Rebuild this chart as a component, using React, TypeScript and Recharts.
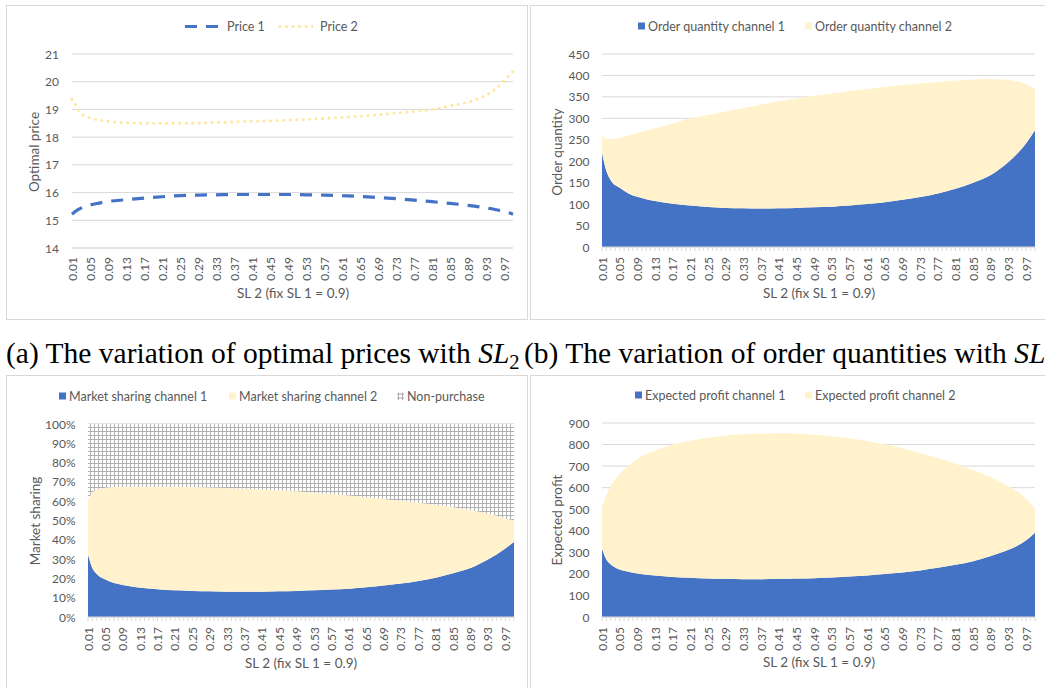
import React from "react";
import { LineChart, Line, AreaChart, Area, XAxis, YAxis, CartesianGrid } from "recharts";

// every category on the SL 2 axis (minor tick marks)
const SL_TICKS = [
  0.01, 0.02, 0.03, 0.04, 0.05, 0.06, 0.07, 0.08, 0.09, 0.1, 0.11, 0.12, 0.13, 0.14, 0.15, 0.16, 0.17, 0.18, 0.19, 0.2,
  0.21, 0.22, 0.23, 0.24, 0.25, 0.26, 0.27, 0.28, 0.29, 0.3, 0.31, 0.32, 0.33, 0.34, 0.35, 0.36, 0.37, 0.38, 0.39, 0.4,
  0.41, 0.42, 0.43, 0.44, 0.45, 0.46, 0.47, 0.48, 0.49, 0.5, 0.51, 0.52, 0.53, 0.54, 0.55, 0.56, 0.57, 0.58, 0.59, 0.6,
  0.61, 0.62, 0.63, 0.64, 0.65, 0.66, 0.67, 0.68, 0.69, 0.7, 0.71, 0.72, 0.73, 0.74, 0.75, 0.76, 0.77, 0.78, 0.79, 0.8,
  0.81, 0.82, 0.83, 0.84, 0.85, 0.86, 0.87, 0.88, 0.89, 0.9, 0.91, 0.92, 0.93, 0.94, 0.95, 0.96, 0.97, 0.98, 0.99,
];
// labelled categories
const SL_LABELS = [
  0.01, 0.05, 0.09, 0.13, 0.17, 0.21, 0.25, 0.29, 0.33, 0.37, 0.41, 0.45, 0.49, 0.53, 0.57, 0.61, 0.65, 0.69, 0.73,
  0.77, 0.81, 0.85, 0.89, 0.93, 0.97,
];
// points
const SL_POINTS = [
  0.01, 0.02, 0.03, 0.05, 0.07, 0.09, 0.13, 0.17, 0.21, 0.25, 0.29, 0.33, 0.37, 0.41, 0.45, 0.49, 0.53, 0.57, 0.61,
  0.65, 0.69, 0.73, 0.77, 0.81, 0.85, 0.89, 0.93, 0.95, 0.97, 0.99,
];

const PRICE_1 = [
  15.22, 15.35, 15.44, 15.55, 15.62, 15.68, 15.74, 15.8, 15.85, 15.89, 15.91, 15.92, 15.93, 15.93, 15.93, 15.93, 15.92,
  15.91, 15.89, 15.86, 15.82, 15.78, 15.73, 15.67, 15.61, 15.54, 15.45, 15.39, 15.32, 15.22,
];
const PRICE_2 = [
  19.37, 19.12, 18.86, 18.7, 18.62, 18.57, 18.52, 18.5, 18.5, 18.5, 18.51, 18.53, 18.55, 18.57, 18.59, 18.62, 18.64,
  18.68, 18.71, 18.76, 18.81, 18.87, 18.93, 19.0, 19.13, 19.27, 19.51, 19.72, 20.03, 20.38,
];

const ORDER_1 = [
  220, 177, 155, 138, 125, 117, 107, 101, 96.5, 93.4, 91, 90.3, 89.5, 90.3, 91, 92.6, 94, 96.5, 100, 104.5, 110, 116.5,
  125, 136, 150, 168, 198, 218, 242, 272,
];
const ORDER_2 = [
  42, 75, 96, 117, 135, 149, 170, 187, 203.5, 214.6, 225, 233.7, 242.5, 249.7, 255.5, 259.9, 264, 267, 268.5, 268.5,
  267.5, 265, 260, 252, 240.5, 223.5, 191.5, 168, 138, 95,
];

const SHARE_1 = [
  32.4, 25.4, 22.3, 19.4, 17.6, 16.6, 15.2, 14.4, 13.8, 13.5, 13.3, 13.1, 13.1, 13.1, 13.3, 13.5, 13.8, 14.2, 14.7,
  15.4, 16.3, 17.3, 18.7, 20.4, 22.7, 25.4, 29.8, 32.4, 35.5, 38.9,
];
const SHARE_2 = [
  28.5, 39.0, 43.8, 47.6, 49.7, 50.9, 52.3, 53.1, 53.7, 53.8, 53.8, 53.7, 53.3, 53.0, 52.3, 51.6, 50.6, 49.5, 48.3,
  46.7, 44.9, 42.9, 40.5, 37.7, 34.2, 30.1, 23.8, 20.0, 15.5, 11.3,
];
const NON_PURCHASE = [
  39.1, 35.6, 33.9, 33.0, 32.7, 32.5, 32.5, 32.5, 32.5, 32.7, 32.9, 33.2, 33.6, 33.9, 34.4, 34.9, 35.6, 36.3, 37.0,
  37.9, 38.8, 39.8, 40.8, 41.9, 43.1, 44.5, 46.4, 47.6, 49.0, 49.8,
];

const PROFIT_1 = [
  317, 267, 244, 220.5, 210, 202, 192.6, 186, 182, 178.6, 177, 175.5, 175.5, 177, 178.6, 180, 183, 188, 192.6, 199,
  206.5, 216, 228, 242, 259, 283, 312, 331, 356, 391,
];
const PROFIT_2 = [
  191, 300, 365, 442.5, 492, 531, 579.4, 614, 636, 653.4, 665, 672.5, 675.5, 676, 672.4, 666, 656, 641, 624.4, 602,
  576.5, 545, 510, 469, 423, 365, 294, 250, 194, 112,
];

const PRICE_TICKS = [14, 15, 16, 17, 18, 19, 20, 21];
const ORDER_TICKS = [0, 50, 100, 150, 200, 250, 300, 350, 400, 450];
const SHARE_TICKS = [0, 10, 20, 30, 40, 50, 60, 70, 80, 90, 100];
const PROFIT_TICKS = [0, 100, 200, 300, 400, 500, 600, 700, 800, 900];

const FONT = "Lato, 'Noto Sans', sans-serif";
const TEXT = "#595959";
const GRID = "#d9d9d9";
const BLUE = "#4472C4";
const CREAM = "#FFF2CC";
const GOLD = "#FFE699";

const LABEL_SET = new Set(SL_LABELS.map((v) => Math.round(v * 100)));

function XTick({ x, y, payload }: any) {
  if (!LABEL_SET.has(Math.round(payload.value * 100))) return <g />;
  return (
    <text
      x={x}
      y={y}
      transform={`rotate(-90 ${x} ${y})`}
      textAnchor="end"
      dominantBaseline="central"
      fill={TEXT}
      fontSize={12}
      fontFamily={FONT}
    >
      {payload.value.toFixed(2)}
    </text>
  );
}

function YTick({ x, y, payload, suffix }: any) {
  return (
    <text x={x} y={y} textAnchor="end" dominantBaseline="central" fill={TEXT} fontSize={12} fontFamily={FONT}>
      {payload.value}
      {suffix || ""}
    </text>
  );
}

function Square({ fill }: { fill: string }) {
  return <span style={{ display: "inline-block", width: 7, height: 7, background: fill }} />;
}

function GridSwatch() {
  return (
    <svg width={7} height={8}>
      <line x1={0} y1={1.5} x2={7} y2={1.5} stroke="#aaa" />
      <line x1={0} y1={5.5} x2={7} y2={5.5} stroke="#aaa" />
      <line x1={1.5} y1={0} x2={1.5} y2={8} stroke="#aaa" />
      <line x1={5.5} y1={0} x2={5.5} y2={8} stroke="#aaa" />
    </svg>
  );
}

function LegendItem({ left, y, gap, swatch, label }: any) {
  return (
    <div
      style={{
        position: "absolute",
        left,
        top: y,
        transform: "translateY(-50%)",
        display: "flex",
        alignItems: "center",
        gap,
        whiteSpace: "nowrap",
        fontFamily: FONT,
        fontSize: 12.5,
        color: TEXT,
      }}
    >
      {swatch}
      <span>{label}</span>
    </div>
  );
}

function YTitle({ x, y, text }: any) {
  return (
    <div
      style={{
        position: "absolute",
        left: x,
        top: y,
        transform: "translate(-50%, -50%) rotate(-90deg)",
        whiteSpace: "nowrap",
        fontFamily: FONT,
        fontSize: 13.5,
        color: TEXT,
      }}
    >
      {text}
    </div>
  );
}

function XTitle({ x, y }: any) {
  return (
    <div
      style={{
        position: "absolute",
        left: x,
        top: y,
        transform: "translate(-50%, -50%)",
        whiteSpace: "nowrap",
        fontFamily: FONT,
        fontSize: 13.5,
        color: TEXT,
      }}
    >
      SL 2 (fix SL 1 = 0.9)
    </div>
  );
}

function Panel({ left, top, width, height, children }: any) {
  return (
    <div style={{ position: "absolute", left, top, width, height }}>
      <div
        style={{
          position: "absolute",
          inset: 0,
          border: `1px solid ${GRID}`,
          boxSizing: "border-box",
        }}
      />
      {children}
    </div>
  );
}

function PriceChart() {
  const rows = SL_POINTS.map((sl, i) => ({ sl, p1: PRICE_1[i], p2: PRICE_2[i] }));
  return (
    <Panel left={6} top={5} width={522} height={315}>
      <div style={{ position: "absolute", left: 0, top: 0 }}>
        <LineChart width={518} height={315} data={rows} margin={{ top: 49, right: 11, left: 26, bottom: 0 }}>
          <CartesianGrid vertical={false} stroke={GRID} />
          <XAxis
            dataKey="sl"
            type="number"
            domain={[0.01, 0.99]}
            ticks={SL_LABELS}
            interval={0}
            height={72}
            tickLine={false}
            tickSize={0}
            tickMargin={9}
            axisLine={{ stroke: GRID }}
            tick={<XTick />}
          />
          <YAxis
            type="number"
            domain={[14, 21]}
            ticks={PRICE_TICKS}
            interval={0}
            width={40}
            axisLine={false}
            tickLine={false}
            tickSize={0}
            tickMargin={13}
            tick={<YTick />}
          />
          <Line
            dataKey="p1"
            type="monotone"
            stroke={BLUE}
            strokeWidth={3.2}
            strokeDasharray="12 9"
            dot={false}
            isAnimationActive={false}
          />
          <Line
            dataKey="p2"
            type="monotone"
            stroke={GOLD}
            strokeWidth={3}
            strokeDasharray="0 6.5"
            strokeLinecap="round"
            dot={false}
            isAnimationActive={false}
          />
        </LineChart>
      </div>
      <LegendItem
        left={179}
        y={21}
        gap={7}
        label="Price 1"
        swatch={
          <svg width={35} height={4}>
            <line x1={0} y1={2} x2={35} y2={2} stroke={BLUE} strokeWidth={3.2} strokeDasharray="12 9" />
          </svg>
        }
      />
      <LegendItem
        left={272}
        y={21}
        gap={7}
        label="Price 2"
        swatch={
          <svg width={35} height={4}>
            <line
              x1={2}
              y1={2}
              x2={35}
              y2={2}
              stroke={GOLD}
              strokeWidth={3}
              strokeDasharray="0 6.5"
              strokeLinecap="round"
            />
          </svg>
        }
      />
      <YTitle x={28} y={147} text="Optimal price" />
      <XTitle x={287} y={288} />
    </Panel>
  );
}

function StackChart({ rows, keys, fills, domain, ticks, suffix, plotLeft, plotRight, plotTop, defs }: any) {
  return (
    <div style={{ position: "absolute", left: 0, top: 0 }}>
      <AreaChart
        width={520}
        height={315}
        data={rows}
        margin={{ top: plotTop, right: 520 - plotRight, left: plotLeft - 40, bottom: 0 }}
      >
        {defs}
        <CartesianGrid vertical={false} stroke={GRID} />
        <XAxis
          dataKey="sl"
          type="number"
          domain={[0.01, 0.99]}
          ticks={SL_TICKS}
          interval={0}
          height={73}
          tickLine={{ stroke: GRID }}
          tickSize={4}
          tickMargin={6}
          axisLine={{ stroke: GRID }}
          tick={<XTick />}
        />
        <YAxis
          type="number"
          domain={domain}
          ticks={ticks}
          interval={0}
          width={40}
          axisLine={false}
          tickLine={false}
          tickSize={0}
          tickMargin={12.5}
          tick={<YTick suffix={suffix} />}
        />
        {keys.map((k: string, i: number) => (
          <Area
            key={k}
            dataKey={k}
            stackId="s"
            type="monotone"
            stroke="none"
            fill={fills[i]}
            fillOpacity={1}
            isAnimationActive={false}
          />
        ))}
      </AreaChart>
    </div>
  );
}

function OrderChart() {
  const rows = SL_POINTS.map((sl, i) => ({ sl, q1: ORDER_1[i], q2: ORDER_2[i] }));
  return (
    <Panel left={530} top={5} width={520} height={315}>
      <StackChart
        rows={rows}
        keys={["q1", "q2"]}
        fills={[BLUE, CREAM]}
        domain={[0, 450]}
        ticks={ORDER_TICKS}
        plotLeft={72}
        plotRight={505}
        plotTop={49}
      />
      <LegendItem left={108} y={21} gap={3} label="Order quantity channel 1" swatch={<Square fill={BLUE} />} />
      <LegendItem left={275} y={21} gap={3} label="Order quantity channel 2" swatch={<Square fill={CREAM} />} />
      <YTitle x={27} y={147} text="Order quantity" />
      <XTitle x={289} y={288} />
    </Panel>
  );
}

function ShareChart() {
  const rows = SL_POINTS.map((sl, i) => ({ sl, m1: SHARE_1[i], m2: SHARE_2[i], np: NON_PURCHASE[i] }));
  const defs = (
    <defs>
      <pattern id="smallGrid" width={4} height={4} patternUnits="userSpaceOnUse">
        <rect width={4} height={4} fill="#ffffff" />
        <rect width={4} height={1} fill="#b0b0b0" />
        <rect width={1} height={4} fill="#b0b0b0" />
      </pattern>
    </defs>
  );
  return (
    <Panel left={6} top={375} width={522} height={320}>
      <StackChart
        rows={rows}
        keys={["m1", "m2", "np"]}
        fills={[BLUE, CREAM, "url(#smallGrid)"]}
        domain={[0, 100]}
        ticks={SHARE_TICKS}
        suffix="%"
        plotLeft={82}
        plotRight={508}
        plotTop={49}
        defs={defs}
      />
      <LegendItem left={53} y={21} gap={3} label="Market sharing channel 1" swatch={<Square fill={BLUE} />} />
      <LegendItem left={223} y={21} gap={3} label="Market sharing channel 2" swatch={<Square fill={CREAM} />} />
      <LegendItem left={391} y={21} gap={3} label="Non-purchase" swatch={<GridSwatch />} />
      <YTitle x={29} y={146} text="Market sharing" />
      <XTitle x={295} y={288} />
    </Panel>
  );
}

function ProfitChart() {
  const rows = SL_POINTS.map((sl, i) => ({ sl, e1: PROFIT_1[i], e2: PROFIT_2[i] }));
  return (
    <Panel left={530} top={375} width={520} height={320}>
      <StackChart
        rows={rows}
        keys={["e1", "e2"]}
        fills={[BLUE, CREAM]}
        domain={[0, 900]}
        ticks={PROFIT_TICKS}
        plotLeft={72}
        plotRight={505}
        plotTop={48}
      />
      <LegendItem left={105} y={20} gap={3} label="Expected profit channel 1" swatch={<Square fill={BLUE} />} />
      <LegendItem left={275} y={20} gap={3} label="Expected profit channel 2" swatch={<Square fill={CREAM} />} />
      <YTitle x={27} y={145} text="Expected profit" />
      <XTitle x={289} y={287} />
    </Panel>
  );
}

export default function App() {
  return (
    <div
      style={{
        position: "fixed",
        left: 0,
        top: 0,
        width: 1045,
        height: 688,
        overflow: "hidden",
        background: "#ffffff",
      }}
    >
      <PriceChart />
      <OrderChart />
      <ShareChart />
      <ProfitChart />
      <div
        style={{
          position: "absolute",
          left: 6,
          top: 339,
          fontFamily: "'Liberation Serif', 'DejaVu Serif', serif",
          fontSize: 29.5,
          lineHeight: "28px",
          whiteSpace: "nowrap",
          color: "#000",
        }}
      >
        (a) The variation of optimal prices with <i>SL</i>
        <span style={{ fontSize: "0.7em", verticalAlign: "-0.3em", lineHeight: 0 }}>2</span>
        <span style={{ marginLeft: -3 }}> </span>(b) The variation of order quantities with <i>SL</i>
        <span style={{ fontSize: "0.7em", verticalAlign: "-0.3em", lineHeight: 0 }}>2</span>
      </div>
    </div>
  );
}
